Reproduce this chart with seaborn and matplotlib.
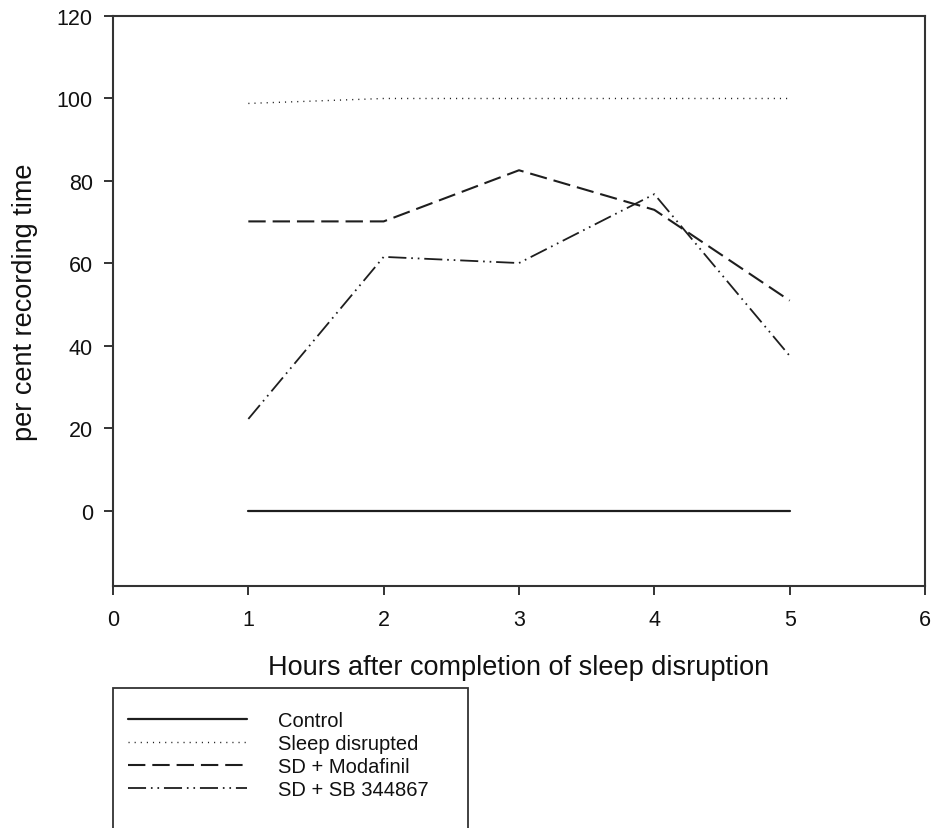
import matplotlib
matplotlib.use("Agg")
import matplotlib.pyplot as plt
from matplotlib.patches import Rectangle
import seaborn as sns
import pandas as pd

hours = [1, 2, 3, 4, 5]
control = [0, 0, 0, 0, 0]
sleep_disrupted = [98.8, 100, 100, 100, 100]
sd_modafinil = [70.2, 70.2, 82.6, 73.0, 51.0]
sd_sb344867 = [22.3, 61.6, 60.1, 76.8, 37.6]
series_names = ["Control", "Sleep disrupted", "SD + Modafinil", "SD + SB 344867"]
x_ticks = [0, 1, 2, 3, 4, 5, 6]
y_ticks = [0, 20, 40, 60, 80, 100, 120]

sns.set_style("ticks")
plt.rcParams["font.family"] = ["Liberation Sans", "DejaVu Sans"]
plt.rcParams["lines.scale_dashes"] = False

fig = plt.figure(figsize=(9.31, 8.29), dpi=100)
ax = fig.add_axes([113 / 931, 1 - 587 / 829, (925 - 113) / 931, (587 - 17) / 829])

line_color = "#1e1e1e"
styles = {
    "Control": dict(linestyle="-", linewidth=1.6),
    "Sleep disrupted": dict(linestyle=(0, (0.8, 3.6)), linewidth=1.0),
    "SD + Modafinil": dict(linestyle=(0, (12.5, 5.0)), linewidth=1.5),
    "SD + SB 344867": dict(linestyle=(0, (13, 3.5, 1.2, 3.5, 1.2, 3.5)), linewidth=1.3),
}
values = [control, sleep_disrupted, sd_modafinil, sd_sb344867]

for name, vals in zip(series_names, values):
    df = pd.DataFrame({"hours": hours, "pct": vals})
    sns.lineplot(data=df, x="hours", y="pct", ax=ax, color=line_color,
                 label=name, **styles[name])

ax.set_xlim(0, 6)
ax.set_ylim(-18.2, 120)
ax.set_xticks(x_ticks)
ax.set_yticks(y_ticks)
ax.tick_params(axis="both", direction="out", length=6.5, width=1.4, color="#333333",
               labelsize=15.5, labelcolor="#111111")
ax.tick_params(axis="x", pad=10)
ax.tick_params(axis="y", pad=8)
for sp in ax.spines.values():
    sp.set_visible(True)
    sp.set_linewidth(1.5)
    sp.set_color("#333333")

ax.set_xlabel("Hours after completion of sleep disruption", fontsize=19.5, labelpad=17, color="#111111")
ax.set_ylabel("per cent recording time", fontsize=19.5, labelpad=13.7, color="#111111")

leg = ax.legend(loc="upper left", bbox_to_anchor=(128 / 931, 1 - 712 / 829),
                bbox_transform=fig.transFigure, frameon=False, fontsize=14.5,
                handlelength=5.92, handletextpad=1.54, labelspacing=0.2,
                borderpad=0, borderaxespad=0)
for t in leg.get_texts():
    t.set_color("#111111")

fig.patches.append(Rectangle((113 / 931, -0.05), (468 - 113) / 931, (1 - 689 / 829) + 0.05,
                             transform=fig.transFigure, fill=False, edgecolor="#333333",
                             linewidth=1.3, clip_on=False))

fig.savefig("out.png", dpi=100)
